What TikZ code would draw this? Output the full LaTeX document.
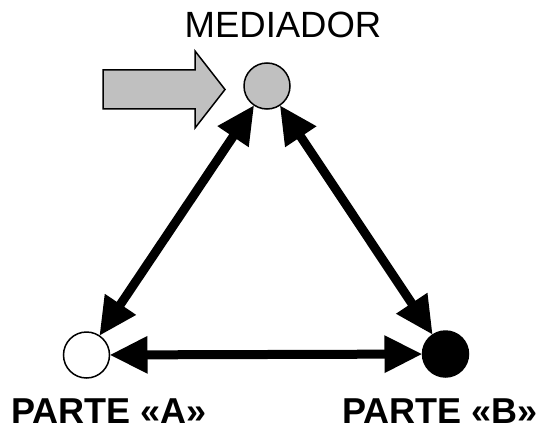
\documentclass[tikz,border=0pt]{standalone}
\usepackage{fontspec}
\setmainfont{Liberation Sans}
\usetikzlibrary{arrows.meta}
\definecolor{lgray}{HTML}{C0C0C0}
\begin{document}
\begin{tikzpicture}[x=1pt,y=-1pt,
  party/.style={circle,draw=black,line width=1.5pt,minimum size=46pt,inner sep=0pt,outer sep=0pt},
  link/.style={line width=9pt,{Triangle[length=38pt,width=35pt]}-{Triangle[length=38pt,width=35pt]}},
  lbl/.style={anchor=base,inner sep=0pt,font=\bfseries\fontsize{36}{40}\selectfont}]
\useasboundingbox (0,0) rectangle (548,433);
\node[party,fill=lgray] (M) at (267,86) {};
\node[party,fill=white] (A) at (86.5,355) {};
\node[party,fill=black] (B) at (445.5,354) {};
\draw[link] (A) -- (M);
\draw[link] (B) -- (M);
\draw[link] (A) -- (B);
\draw[fill=lgray,line width=1.5pt,line join=miter] (103,70) -- (195,70) -- (195,51) -- (225,89.5) -- (195,128) -- (195,109) -- (103,109) -- cycle;
\node[anchor=base,inner sep=0pt,font=\fontsize{36.5}{40}\selectfont] (tM) at (283,38) {MEDIADOR};
\node[lbl] (tA) at (109,423) {PARTE «A»};
\node[lbl] (tB) at (440,423) {PARTE «B»};
\end{tikzpicture}
\end{document}
